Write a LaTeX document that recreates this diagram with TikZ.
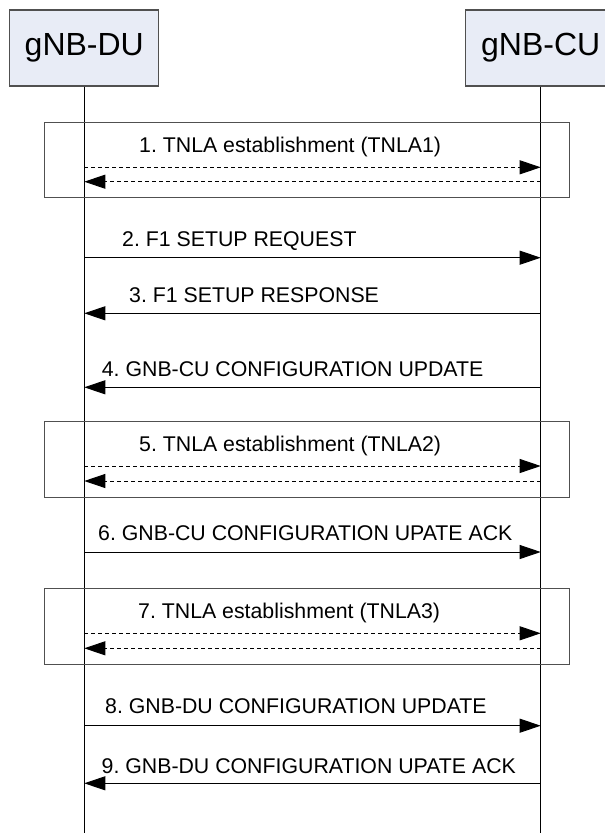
\documentclass[tikz,border=0pt]{standalone}
\usepackage{fontspec}
\setmainfont{Liberation Sans}
\usetikzlibrary{arrows.meta}
\frenchspacing

\definecolor{entityfill}{HTML}{E8ECF6}
\definecolor{entityline}{HTML}{505050}

\tikzset{
    entity/.style={draw=entityline, fill=entityfill, line width=1.2pt, minimum width=149pt, minimum height=76pt, inner sep=0pt, font=\fontsize{32}{32}\selectfont},
    lifeline/.style={line width=1pt},
    msg/.style={line width=0.9pt, -{Triangle[length=21pt,width=14pt]}},
    tnla/.style={msg, dash pattern=on 4pt off 3pt},
    msgtext/.style={anchor=base west, inner sep=0pt, font=\fontsize{21.3}{21.3}\selectfont},
    groupbox/.style={draw=entityline, line width=1pt}
}

\begin{document}
\begin{tikzpicture}[x=1pt, y=-1pt]
        \useasboundingbox (0,0) rectangle (605,833);

        \node[entity] (du) at (84.3,48) {gNB-DU};
        \node[entity, minimum width=151pt] (cu) at (540.7,48) {gNB-CU};

        \coordinate (duend) at (84.3,833);
        \coordinate (cuend) at (540.7,833);
        \draw[lifeline] (du.south) -- (duend);
        \draw[lifeline] (cu.south) -- (cuend);

        % message levels on both lifelines
        \foreach \n/\y in {1a/167.3, 1b/181.7, 2/257.7, 3/313.3, 4/387.3, 5a/466, 5b/481, 6/552, 7a/633.3, 7b/648.3, 8/725.7, 9/783.3} {
            \coordinate (du\n) at (84.3,\y);
            \coordinate (cu\n) at (540.7,\y);
        }

        \draw[groupbox] (44.3,122) rectangle (569,197);
        \draw[groupbox] (44.3,421) rectangle (569,497);
        \draw[groupbox] (44.3,588.3) rectangle (569,664);

        \node[msgtext] (t1) at (139,152) {1. TNLA establishment (TNLA1)};
        \node[msgtext] (t2) at (122,246.7) {2. F1 SETUP REQUEST};
        \node[msgtext] (t3) at (129,302) {3. F1 SETUP RESPONSE};
        \node[msgtext] (t4) at (101.7,376) {4. GNB-CU CONFIGURATION UPDATE};
        \node[msgtext] (t5) at (139,451) {5. TNLA establishment (TNLA2)};
        \node[msgtext] (t6) at (98,540) {6. GNB-CU CONFIGURATION UPATE ACK};
        \node[msgtext] (t7) at (138,618) {7. TNLA establishment (TNLA3)};
        \node[msgtext] (t8) at (105,713.3) {8. GNB-DU CONFIGURATION UPDATE};
        \node[msgtext] (t9) at (101.5,773.3) {9. GNB-DU CONFIGURATION UPATE ACK};

        \draw[tnla] (du1a) -- (cu1a);
        \draw[tnla] (cu1b) -- (du1b);
        \draw[msg] (du2) -- (cu2);
        \draw[msg] (cu3) -- (du3);
        \draw[msg] (cu4) -- (du4);
        \draw[tnla] (du5a) -- (cu5a);
        \draw[tnla] (cu5b) -- (du5b);
        \draw[msg] (du6) -- (cu6);
        \draw[tnla] (du7a) -- (cu7a);
        \draw[tnla] (cu7b) -- (du7b);
        \draw[msg] (du8) -- (cu8);
        \draw[msg] (cu9) -- (du9);

\end{tikzpicture}
\end{document}
